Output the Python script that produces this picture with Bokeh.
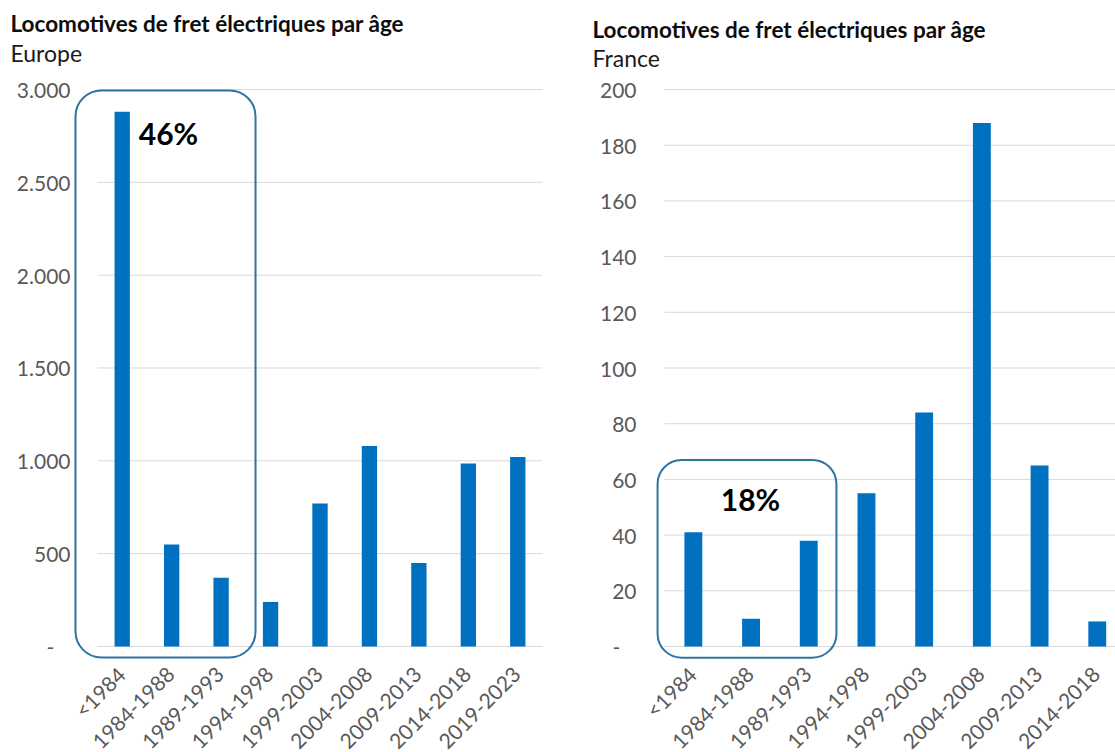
import math
from bokeh.plotting import figure
from bokeh.models import Range1d, FixedTicker, BoxAnnotation, Label, ColumnDataSource
from bokeh.layouts import row
from bokeh.embed import file_html
from bokeh.resources import INLINE

title_text = "Locomotives de fret électriques par âge"

eu_subtitle = "Europe"
eu_categories = ["<1984", "1984-1988", "1989-1993", "1994-1998", "1999-2003",
                 "2004-2008", "2009-2013", "2014-2018", "2019-2023"]
eu_values = [2880, 550, 370, 240, 770, 1080, 450, 985, 1020]
eu_y_ticks = [0, 500, 1000, 1500, 2000, 2500, 3000]
eu_y_labels = ["-", "500", "1.000", "1.500", "2.000", "2.500", "3.000"]
eu_highlight = "46%"

fr_subtitle = "France"
fr_categories = ["<1984", "1984-1988", "1989-1993", "1994-1998", "1999-2003",
                 "2004-2008", "2009-2013", "2014-2018"]
fr_values = [41, 10, 38, 55, 84, 188, 65, 9]
fr_y_ticks = [0, 20, 40, 60, 80, 100, 120, 140, 160, 180, 200]
fr_y_labels = ["-", "20", "40", "60", "80", "100", "120", "140", "160", "180", "200"]
fr_highlight = "18%"

FONT = "Lato"
BAR = "#0070C0"
BOX = "#2E74A3"
GRID = "#D9D9D9"
TICK = "#595959"


def make_chart(categories, values, y_ticks, y_labels, subtitle, highlight,
               width, border_left, border_right, x_range, y_range, standoff,
               box, hl_pos, xlab_dx, xlab_y, title_pos, sub_pos):
    n = len(categories)
    xs = list(range(n))
    p = figure(width=width, height=752, output_backend="svg", toolbar_location=None,
               x_range=Range1d(*x_range), y_range=Range1d(*y_range),
               x_axis_location=None,
               min_border_left=border_left, min_border_right=border_right,
               min_border_top=0, min_border_bottom=0)
    p.outline_line_color = None
    p.background_fill_color = "white"
    p.border_fill_color = "white"
    p.grid.visible = False

    # horizontal gridlines at the tick values
    grid_src = ColumnDataSource(dict(x0=[-0.5] * len(y_ticks), x1=[n - 0.5] * len(y_ticks),
                                     y=y_ticks))
    p.segment(x0="x0", x1="x1", y0="y", y1="y", source=grid_src,
              line_color=GRID, line_width=1)

    src = ColumnDataSource(dict(x=xs, top=values))
    p.vbar(x="x", top="top", bottom=0, width=0.31, source=src,
           fill_color=BAR, line_color=None)

    # category labels, rotated 45 degrees below the baseline
    lab_src = ColumnDataSource(dict(x=[x + xlab_dx for x in xs],
                                    y=[xlab_y] * n, text=categories))
    p.text(x="x", y="y", text="text", source=lab_src, angle=math.pi / 4,
           text_align="right", text_baseline="middle",
           text_font={"value": FONT}, text_font_size="21px", text_color=TICK)

    ya = p.yaxis[0]
    ya.ticker = FixedTicker(ticks=y_ticks)
    ya.major_label_overrides = {t: (l + "\u00a0\u00a0\u00a0" if l == "-" else l)
                                for t, l in zip(y_ticks, y_labels)}
    ya.axis_line_color = None
    ya.major_tick_line_color = None
    ya.minor_tick_line_color = None
    ya.major_tick_in = 0
    ya.major_tick_out = 0
    ya.major_label_standoff = standoff
    ya.major_label_text_font = FONT
    ya.major_label_text_font_size = "21px"
    ya.major_label_text_color = TICK

    l, r, b, t, rad = box
    p.add_layout(BoxAnnotation(left=l, right=r, bottom=b, top=t,
                               fill_color=None, fill_alpha=0,
                               line_color=BOX, line_alpha=1, line_width=2,
                               border_radius=rad, level="overlay"))
    p.add_layout(Label(x=hl_pos[0], y=hl_pos[1], text=highlight, text_font=FONT,
                       text_font_style="bold", text_font_size="30px", text_color="black",
                       text_align="center", text_baseline="middle"))

    p.add_layout(Label(x=title_pos[0], y=title_pos[1], x_units="screen", y_units="screen",
                       text=title_text, text_font=FONT, text_font_style="bold",
                       text_font_size="22.5px", text_color="#0D0D0D",
                       text_align="left", text_baseline="middle"))
    p.add_layout(Label(x=sub_pos[0], y=sub_pos[1], x_units="screen", y_units="screen",
                       text=subtitle, text_font=FONT, text_font_style="normal",
                       text_font_size="23px", text_color="#1A1A1A",
                       text_align="left", text_baseline="middle"))
    return p


p1 = make_chart(eu_categories, eu_values, eu_y_ticks, eu_y_labels, eu_subtitle, eu_highlight,
                width=560, border_left=8, border_right=18,
                x_range=(-2.300, 8.5), y_range=(-570.9, 3479.3), standoff=-62,
                box=(-0.945, 2.696, -59, 2995, 26), hl_pos=(0.936, 2763),
                xlab_dx=-0.02, xlab_y=-129.3, title_pos=(2, 729), sub_pos=(2, 700))
p2 = make_chart(fr_categories, fr_values, fr_y_ticks, fr_y_labels, fr_subtitle, fr_highlight,
                width=555, border_left=28, border_right=0,
                x_range=(-1.817, 7.316), y_range=(-38.06, 231.96), standoff=-48,
                box=(-0.62, 2.48, -4, 67, 24), hl_pos=(0.99, 52.8),
                xlab_dx=-0.017, xlab_y=-8.62, title_pos=(4, 723), sub_pos=(4, 695))

layout = row(p1, p2)
open("out.html", "w").write(file_html(layout, INLINE))
